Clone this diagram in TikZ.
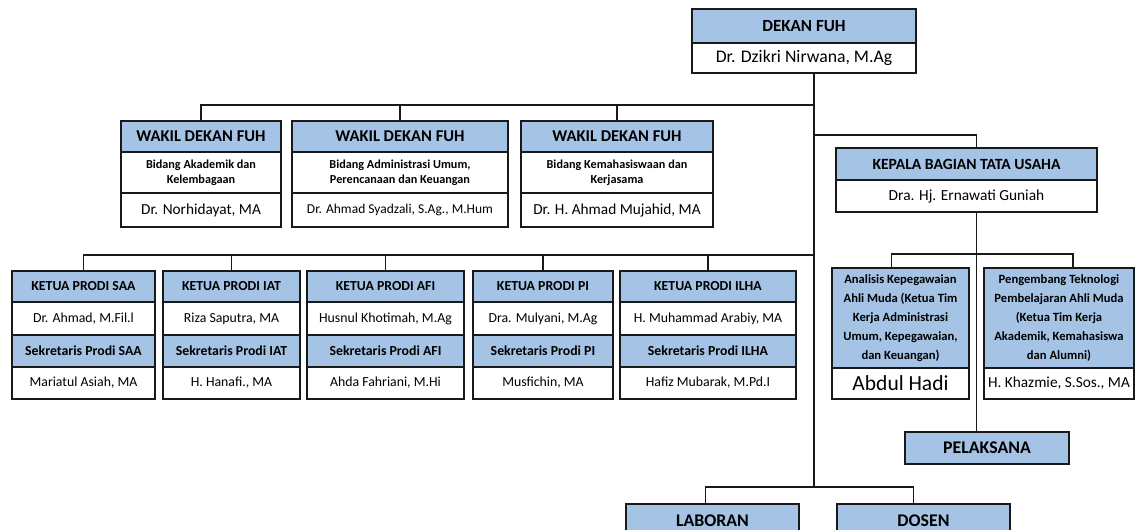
\documentclass[tikz,border=0pt]{standalone}
\usepackage{fontspec}
\setmainfont{Carlito}
\usetikzlibrary{positioning}
\definecolor{hdrblue}{RGB}{165,195,229}
\definecolor{linegray}{RGB}{25,25,25}
\newcommand{\fdekan}{\fontsize{17}{20}\selectfont\bfseries}
\newcommand{\fwakil}{\fontsize{16.5}{19}\selectfont\bfseries}
\newcommand{\fname}{\fontsize{15.3}{18}\selectfont}
\newcommand{\fsub}{\fontsize{12.2}{15}\selectfont\bfseries}
\newcommand{\fprodi}{\fontsize{13.8}{16}\selectfont\bfseries}
\newcommand{\fpname}{\fontsize{13.8}{16}\selectfont}
\newcommand{\fstaff}{\fontsize{12.6}{19}\selectfont\bfseries}
\newcommand{\funit}{\fontsize{17.8}{20}\selectfont\bfseries}

\begin{document}
\begin{tikzpicture}[
    x=1pt, y=-1pt,
    hdr/.style={draw=linegray, line width=1.3pt, fill=hdrblue, inner sep=0pt, outer sep=0pt, anchor=north west, align=center},
    cell/.style={draw=linegray, line width=1.3pt, fill=white, inner sep=0pt, outer sep=0pt, anchor=north west, align=center},
    box/.style 2 args={minimum width=#1pt, minimum height=#2pt},
    link/.style={draw=linegray, line width=1.2pt}
]
\useasboundingbox (0,0) rectangle (1136,530);
\clip (0,0) rectangle (1136,530);

% Dekan
\node[hdr, box={224}{34}, font=\fdekan] (dekanh) at (692,9) {DEKAN FUH};
\node[cell, box={224}{30}, font=\fontsize{17.7}{20}\selectfont] (dekan) [below=0pt of dekanh] {Dr. Dzikri Nirwana, M.Ag};

% Wakil dekan
\node[hdr, box={160}{31}, font=\fwakil] (wd1h) at (121,121) {WAKIL DEKAN FUH};
\node[cell, box={160}{41}, font=\fsub] (wd1s) [below=0pt of wd1h] {Bidang Akademik dan\\Kelembagaan};
\node[cell, box={160}{34}, font=\fname] (wd1) [below=0pt of wd1s] {Dr. Norhidayat, MA};

\node[hdr, box={216}{31}, font=\fwakil] (wd2h) at (292,121) {WAKIL DEKAN FUH};
\node[cell, box={216}{41}, font=\fsub] (wd2s) [below=0pt of wd2h] {Bidang Administrasi Umum,\\Perencanaan dan Keuangan};
\node[cell, box={216}{34}, font=\fontsize{13.5}{16}\selectfont] (wd2) [below=0pt of wd2s] {Dr. Ahmad Syadzali, S.Ag., M.Hum};

\node[hdr, box={192}{31}, font=\fwakil] (wd3h) at (521,121) {WAKIL DEKAN FUH};
\node[cell, box={192}{41}, font=\fsub] (wd3s) [below=0pt of wd3h] {Bidang Kemahasiswaan dan\\Kerjasama};
\node[cell, box={192}{34}, font=\fname] (wd3) [below=0pt of wd3s] {Dr. H. Ahmad Mujahid, MA};

% Kepala bagian tata usaha
\node[hdr, box={261}{32}, font=\fontsize{15.6}{18}\selectfont\bfseries] (ktuh) at (836,148) {KEPALA BAGIAN TATA USAHA};
\node[cell, box={261}{32}, font=\fontsize{15.4}{18}\selectfont] (ktu) [below=0pt of ktuh] {Dra. Hj. Ernawati Guniah};

% Program studi
\node[hdr, box={143}{31}, font=\fprodi] (saah) at (12,271) {KETUA PRODI SAA};
\node[cell, box={143}{33}, font=\fpname] (saa) [below=0pt of saah] {Dr. Ahmad, M.Fil.l};
\node[hdr, box={143}{32}, font=\fprodi] (saash) [below=0pt of saa] {Sekretaris Prodi SAA};
\node[cell, box={143}{32}, font=\fpname] (saas) [below=0pt of saash] {Mariatul Asiah, MA};

\node[hdr, box={137}{31}, font=\fprodi] (iath) at (163,271) {KETUA PRODI IAT};
\node[cell, box={137}{33}, font=\fpname] (iat) [below=0pt of iath] {Riza Saputra, MA};
\node[hdr, box={137}{32}, font=\fprodi] (iatsh) [below=0pt of iat] {Sekretaris Prodi IAT};
\node[cell, box={137}{32}, font=\fpname] (iats) [below=0pt of iatsh] {H. Hanafi., MA};

\node[hdr, box={157}{31}, font=\fprodi] (afih) at (307,271) {KETUA PRODI AFI};
\node[cell, box={157}{33}, font=\fpname] (afi) [below=0pt of afih] {Husnul Khotimah, M.Ag};
\node[hdr, box={157}{32}, font=\fprodi] (afish) [below=0pt of afi] {Sekretaris Prodi AFI};
\node[cell, box={157}{32}, font=\fpname] (afis) [below=0pt of afish] {Ahda Fahriani, M.Hi};

\node[hdr, box={140}{31}, font=\fprodi] (pih) at (473,271) {KETUA PRODI PI};
\node[cell, box={140}{33}, font=\fpname] (pi) [below=0pt of pih] {Dra. Mulyani, M.Ag};
\node[hdr, box={140}{32}, font=\fprodi] (pish) [below=0pt of pi] {Sekretaris Prodi PI};
\node[cell, box={140}{32}, font=\fpname] (pis) [below=0pt of pish] {Musfichin, MA};

\node[hdr, box={176}{31}, font=\fprodi] (ilhah) at (620,271) {KETUA PRODI ILHA};
\node[cell, box={176}{33}, font=\fpname] (ilha) [below=0pt of ilhah] {H. Muhammad Arabiy, MA};
\node[hdr, box={176}{32}, font=\fprodi] (ilhash) [below=0pt of ilha] {Sekretaris Prodi ILHA};
\node[cell, box={176}{32}, font=\fpname] (ilhas) [below=0pt of ilhash] {Hafiz Mubarak, M.Pd.I};

% Staf tata usaha
\node[hdr, box={137}{100}, font=\fstaff] (anah) at (832,268) {Analisis Kepegawaian\\Ahli Muda (Ketua Tim\\Kerja Administrasi\\Umum, Kepegawaian,\\dan Keuangan)};
\node[cell, box={137}{31}, font=\fontsize{21.5}{23}\selectfont] (ana) [below=0pt of anah] {Abdul Hadi};

\node[hdr, box={150}{100}, font=\fstaff] (pengh) at (984,268) {Pengembang Teknologi\\Pembelajaran Ahli Muda\\(Ketua Tim Kerja\\Akademik, Kemahasiswa\\dan Alumni)};
\node[cell, box={150}{31}, font=\fontsize{15.3}{17}\selectfont] (peng) [below=0pt of pengh] {H. Khazmie, S.Sos., MA};

\node[hdr, box={164}{32}, font=\funit] (pel) at (905,432) {PELAKSANA};

% Laboran dan dosen
\node[hdr, box={173}{34}, font=\funit] (lab) at (626,504) {LABORAN};
\node[hdr, box={173}{34}, font=\funit] (dos) at (837,504) {DOSEN};

% Connectors
\coordinate (wdbar) at (0,105);
\coordinate (ktubar) at (0,135);
\coordinate (prodibar) at (0,255);
\coordinate (stafbar) at (0,254);
\coordinate (botbar) at (0,487);
\coordinate (tktop) at ([xshift=10pt]dekan.south);

\draw[link] (tktop) -- (tktop |- botbar);
\draw[link] (wd1h.north) |- (tktop |- wdbar);
\draw[link] (wd2h.north) -- (wd2h.north |- wdbar);
\draw[link] (wd3h.north) -- (wd3h.north |- wdbar);
\draw[link] (tktop |- ktubar) -| ([xshift=10pt]ktuh.north);

\draw[link] (saah.north) |- (tktop |- prodibar);
\draw[link] (iath.north) -- (iath.north |- prodibar);
\draw[link] (afih.north) -- (afih.north |- prodibar);
\draw[link] (pih.north) -- (pih.north |- prodibar);
\draw[link] (ilhah.north) -- (ilhah.north |- prodibar);

\draw[link] ([xshift=10pt]ktu.south) -- ([xshift=10pt]ktu.south |- pel.north);
\draw[link] ([xshift=-9pt]anah.north) |- ([xshift=14pt]pengh.north |- stafbar) -- ([xshift=14pt]pengh.north);

\draw[link] ([xshift=-7pt]lab.north) |- ([xshift=-10pt]dos.north |- botbar) -- ([xshift=-10pt]dos.north);

\end{tikzpicture}
\end{document}
